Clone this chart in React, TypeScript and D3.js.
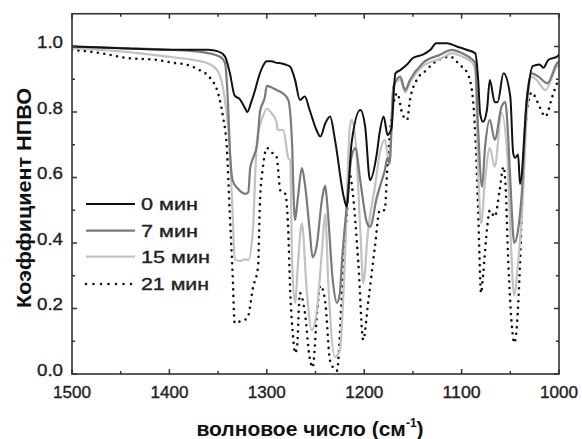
import React from "react";
import * as d3 from "d3";

// wavenumber (cm^-1), ATR coefficient
const series0min: [number, number][] = [
  [1500, 1.0], [1450, 0.995], [1400, 0.99], [1360, 0.99], [1350, 0.985], [1343, 0.97], [1338, 0.92],
  [1333, 0.85], [1328, 0.84], [1322, 0.81], [1320, 0.8], [1316, 0.83], [1312, 0.867], [1309, 0.9],
  [1304, 0.94], [1300, 0.955], [1295, 0.955], [1290, 0.95], [1286, 0.949], [1281, 0.945], [1276, 0.938],
  [1271, 0.898], [1266, 0.837], [1261, 0.847], [1256, 0.806], [1249, 0.745], [1245, 0.725], [1240, 0.765],
  [1235, 0.786], [1230, 0.715], [1221, 0.541], [1218, 0.511], [1213, 0.704], [1204, 0.806], [1199, 0.755],
  [1194, 0.592], [1187, 0.674], [1184, 0.74], [1180, 0.786], [1176, 0.73], [1172, 0.75], [1168, 0.918],
  [1163, 0.928], [1156, 0.945], [1150, 0.965], [1140, 0.975], [1132, 0.99], [1126, 1.01], [1115, 1.01],
  [1105, 1.0], [1095, 0.99], [1086, 0.979], [1083, 0.9], [1081, 0.796], [1078, 0.77], [1074, 0.806],
  [1071, 0.898], [1066, 0.83], [1063, 0.83], [1057, 0.918], [1050, 0.847], [1047, 0.674], [1045, 0.66],
  [1042, 0.67], [1040, 0.58], [1033, 0.837], [1027, 0.94], [1020, 0.945], [1016, 0.935], [1011, 0.959],
  [1002, 0.969], [1000, 0.975],
];

const series7min: [number, number][] = [
  [1500, 1.0], [1450, 0.995], [1400, 0.99], [1369, 0.984], [1348, 0.969], [1343, 0.95], [1340, 0.837],
  [1338, 0.69], [1335, 0.59], [1330, 0.567], [1322, 0.55], [1319, 0.555], [1317, 0.63], [1314, 0.66],
  [1310, 0.7], [1307, 0.8], [1302, 0.846], [1300, 0.88], [1295, 0.875], [1290, 0.867], [1284, 0.858],
  [1278, 0.837], [1274, 0.7], [1273, 0.592], [1271, 0.47], [1268, 0.54], [1264, 0.629], [1261, 0.583],
  [1256, 0.44], [1253, 0.357], [1249, 0.388], [1243, 0.54], [1240, 0.575], [1238, 0.52], [1232, 0.278],
  [1228, 0.217], [1225, 0.247], [1223, 0.338], [1218, 0.51], [1213, 0.663], [1209, 0.69], [1204, 0.59],
  [1197, 0.46], [1194, 0.45], [1187, 0.54], [1182, 0.59], [1179, 0.62], [1176, 0.66], [1174, 0.643],
  [1170, 0.877], [1163, 0.908], [1158, 0.867], [1153, 0.898], [1140, 0.949], [1122, 0.975], [1110, 0.99],
  [1100, 0.98], [1089, 0.96], [1086, 0.95], [1083, 0.745], [1079, 0.571], [1076, 0.69], [1071, 0.776],
  [1066, 0.715], [1059, 0.816], [1055, 0.83], [1053, 0.766], [1050, 0.592], [1046, 0.4], [1042, 0.44],
  [1038, 0.56], [1033, 0.846], [1028, 0.918], [1022, 0.91], [1012, 0.888], [1002, 0.949], [1000, 0.955],
];

const series15min: [number, number][] = [
  [1500, 0.995], [1450, 0.985], [1402, 0.969], [1376, 0.959], [1361, 0.949], [1351, 0.928], [1343, 0.837],
  [1338, 0.684], [1335, 0.48], [1333, 0.35], [1328, 0.345], [1322, 0.35], [1319, 0.348], [1314, 0.45],
  [1312, 0.6], [1310, 0.715], [1304, 0.786], [1300, 0.81], [1295, 0.796], [1290, 0.77], [1289, 0.745],
  [1283, 0.745], [1278, 0.66], [1276, 0.653], [1274, 0.338], [1271, 0.217], [1268, 0.338], [1264, 0.46],
  [1259, 0.256], [1254, 0.134], [1249, 0.186], [1243, 0.388], [1240, 0.49], [1237, 0.287], [1230, 0.052],
  [1225, 0.073], [1220, 0.338], [1215, 0.745], [1213, 0.776], [1209, 0.715], [1204, 0.44], [1201, 0.278],
  [1196, 0.44], [1189, 0.571], [1184, 0.674], [1179, 0.715], [1174, 0.643], [1170, 0.877], [1163, 0.9],
  [1158, 0.86], [1153, 0.89], [1140, 0.94], [1120, 0.965], [1110, 0.98], [1100, 0.97], [1089, 0.95],
  [1086, 0.93], [1083, 0.623], [1080, 0.46], [1076, 0.59], [1071, 0.69], [1066, 0.633], [1059, 0.797],
  [1053, 0.663], [1050, 0.44], [1046, 0.24], [1042, 0.338], [1038, 0.49], [1033, 0.797], [1028, 0.908],
  [1023, 0.898], [1014, 0.867], [1002, 0.94], [1000, 0.945],
];

const series21min: [number, number][] = [
  [1500, 0.99], [1471, 0.98], [1444, 0.965], [1413, 0.959], [1396, 0.95], [1382, 0.944], [1369, 0.928],
  [1358, 0.903], [1350, 0.857], [1345, 0.786], [1341, 0.69], [1338, 0.49], [1335, 0.3], [1333, 0.155],
  [1328, 0.16], [1320, 0.17], [1314, 0.266], [1309, 0.327], [1307, 0.53], [1304, 0.63], [1300, 0.69],
  [1294, 0.674], [1290, 0.663], [1286, 0.56], [1281, 0.55], [1278, 0.44], [1276, 0.256], [1273, 0.113],
  [1271, 0.064], [1269, 0.082], [1266, 0.247], [1261, 0.19], [1256, 0.05], [1253, 0.02], [1248, 0.2],
  [1245, 0.27], [1240, 0.22], [1235, 0.04], [1228, 0.01], [1223, 0.235], [1218, 0.48], [1215, 0.613],
  [1212, 0.56], [1206, 0.338], [1201, 0.104], [1196, 0.217], [1189, 0.388], [1184, 0.5], [1179, 0.5],
  [1176, 0.643], [1171, 0.806], [1166, 0.857], [1161, 0.796], [1156, 0.776], [1153, 0.837], [1146, 0.898],
  [1136, 0.928], [1129, 0.949], [1119, 0.965], [1112, 0.969], [1102, 0.944], [1094, 0.918], [1089, 0.857],
  [1086, 0.735], [1083, 0.5], [1080, 0.247], [1078, 0.3], [1074, 0.44], [1071, 0.5], [1066, 0.48],
  [1061, 0.56], [1057, 0.633], [1055, 0.583], [1052, 0.338], [1048, 0.134], [1046, 0.095], [1043, 0.156],
  [1040, 0.338], [1037, 0.592], [1033, 0.797], [1028, 0.86], [1022, 0.83], [1014, 0.786], [1007, 0.846],
  [1002, 0.888], [1000, 0.9],
];

const legendLabels = ["0 мин", "7 мин", "15 мин", "21 мин"];
const xTickValues = [1500, 1400, 1300, 1200, 1100, 1000];
const xMinorValues = [1450, 1350, 1250, 1150, 1050];
const yTickValues = [0.0, 0.2, 0.4, 0.6, 0.8, 1.0];
const yMinorValues = [0.1, 0.3, 0.5, 0.7, 0.9];

const W = 582;
const H = 439;
const L = 72, R = 559, T = 13.75, B = 374;
const FONT = "'Liberation Sans', Arial, sans-serif";

export default function App() {
  const x = d3.scaleLinear().domain([1500, 1000]).range([L, R]);
  const y = d3.scaleLinear().domain([0, 1.1]).range([B, T]);
  const line = d3
    .line<[number, number]>()
    .x((d) => x(d[0]))
    .y((d) => y(d[1]))
    .curve(d3.curveMonotoneX);

  const styles = [
    { data: series0min, stroke: "#111", width: 2, dash: undefined as string | undefined },
    { data: series7min, stroke: "#7a7a7a", width: 2.2, dash: undefined },
    { data: series15min, stroke: "#c2c2c2", width: 2.2, dash: undefined },
    { data: series21min, stroke: "#111", width: 2.6, dash: "0 6.5" },
  ];
  const legendY = [204, 230.7, 256.7, 284];
  const legendW = [57, 57, 69, 68];
  const frame = "#333";
  const txt = { fill: "#222", stroke: "#222", strokeWidth: 0.35 };

  return (
    <svg
      width={W}
      height={H}
      style={{ position: "absolute", left: 0, top: 0, background: "#fff" }}
      fontFamily={FONT}
    >
      <defs>
        <clipPath id="plot">
          <rect x={L} y={T} width={R - L} height={B - T} />
        </clipPath>
      </defs>
      <g clipPath="url(#plot)">
        {[...styles].reverse().map((s, i) => (
          <path
            key={i}
            d={line(s.data) || ""}
            fill="none"
            stroke={s.stroke}
            strokeWidth={s.width}
            strokeDasharray={s.dash}
            strokeLinecap="round"
            strokeLinejoin="round"
          />
        ))}
      </g>
      <rect x={L} y={T} width={R - L} height={B - T} fill="none" stroke={frame} strokeWidth={1.6} />
      {xTickValues.map((v) => (
        <g key={"xt" + v}>
          <line x1={x(v)} x2={x(v)} y1={B} y2={B - 5} stroke={frame} strokeWidth={1.5} />
          <line x1={x(v)} x2={x(v)} y1={T} y2={T + 5} stroke={frame} strokeWidth={1.5} />
          <text x={x(v)} y={398} textAnchor="middle" fontSize={16} {...txt} textLength={38} lengthAdjust="spacingAndGlyphs">
            {v}
          </text>
        </g>
      ))}
      {xMinorValues.map((v) => (
        <g key={"xm" + v}>
          <line x1={x(v)} x2={x(v)} y1={B} y2={B - 3} stroke={frame} strokeWidth={1.5} />
          <line x1={x(v)} x2={x(v)} y1={T} y2={T + 3} stroke={frame} strokeWidth={1.5} />
        </g>
      ))}
      {yTickValues.map((v) => (
        <g key={"yt" + v}>
          <line x1={L} x2={L + 5} y1={y(v)} y2={y(v)} stroke={frame} strokeWidth={1.5} />
          <line x1={R} x2={R - 5} y1={y(v)} y2={y(v)} stroke={frame} strokeWidth={1.5} />
          <text x={63} y={y(v) + 1.5} textAnchor="end" fontSize={16} {...txt} textLength={26} lengthAdjust="spacingAndGlyphs">
            {d3.format(".1f")(v)}
          </text>
        </g>
      ))}
      {yMinorValues.map((v) => (
        <g key={"ym" + v}>
          <line x1={L} x2={L + 3} y1={y(v)} y2={y(v)} stroke={frame} strokeWidth={1.5} />
          <line x1={R} x2={R - 3} y1={y(v)} y2={y(v)} stroke={frame} strokeWidth={1.5} />
        </g>
      ))}
      {styles.map((s, i) => (
        <g key={"lg" + i}>
          <line
            x1={86}
            x2={135}
            y1={legendY[i]}
            y2={legendY[i]}
            stroke={s.stroke}
            strokeWidth={s.dash ? 2.6 : s.width}
            strokeDasharray={s.dash ? "0 7.5" : undefined}
            strokeLinecap={s.dash ? "round" : "butt"}
          />
          <text x={141} y={legendY[i] + 6} fontSize={16} {...txt} textLength={legendW[i]} lengthAdjust="spacingAndGlyphs">
            {legendLabels[i]}
          </text>
        </g>
      ))}
      <text x={310} y={436} textAnchor="middle" fontSize={21} fontWeight="bold" fill="#111">
        волновое число (см
        <tspan fontSize={12} dy={-9}>-1</tspan>
        <tspan dy={9}>)</tspan>
      </text>
      <text
        transform="translate(31,198) rotate(-90)"
        textAnchor="middle"
        fontSize={21}
        fontWeight="bold"
        fill="#111"
        textLength={220}
        lengthAdjust="spacingAndGlyphs"
      >
        Коэффициент НПВО
      </text>
    </svg>
  );
}
